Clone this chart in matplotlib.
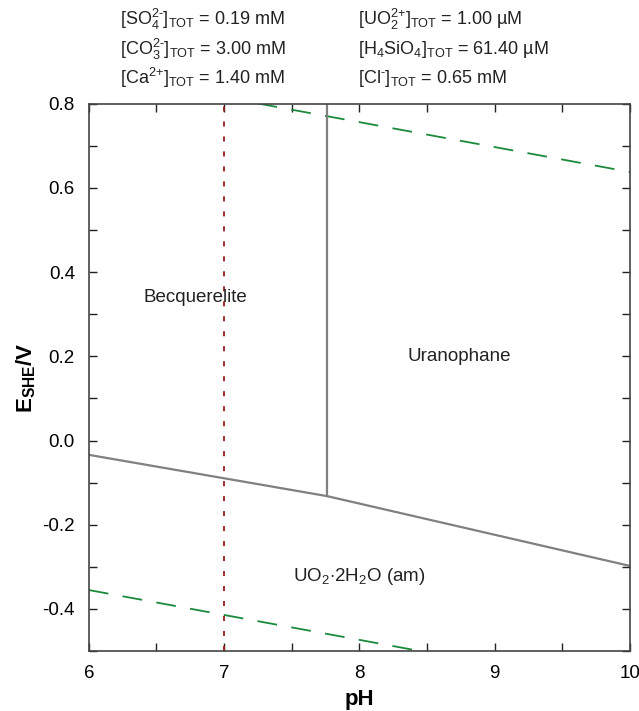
import numpy as np
import matplotlib.pyplot as plt
from matplotlib.ticker import MultipleLocator

plt.rcParams['font.family'] = ['Liberation Sans', 'DejaVu Sans']
plt.rcParams['mathtext.fontset'] = 'custom'
plt.rcParams['mathtext.rm'] = 'Liberation Sans'
plt.rcParams['mathtext.it'] = 'Liberation Sans:italic'
plt.rcParams['mathtext.bf'] = 'Liberation Sans:bold'

# --- data ---
boundary_ph = [6.0, 7.76, 10.0]           # UO2.2H2O(am) upper boundary
boundary_e = [-0.034, -0.132, -0.298]
vert_ph = 7.76                            # becquerelite / uranophane
vert_e = [-0.132, 0.8]
sample_ph = 7.0                           # red dotted line
water_ph = [6.0, 10.0]
o2_e = [1.23 - 0.0592 * p for p in water_ph]
h2_e = [-0.0592 * p for p in water_ph]

field_names = ['Becquerelite', 'Uranophane', r'UO$_2$$\cdot$2H$_2$O (am)']
field_ph = [6.79, 8.74, 8.0]
field_e = [0.34, 0.20, -0.322]

header_left = [r'[SO$_4^{2\text{-}}$]$_{\mathregular{TOT}}$ = 0.19 mM',
               r'[CO$_3^{2\text{-}}$]$_{\mathregular{TOT}}$ = 3.00 mM',
               r'[Ca$^{2\text{+}}$]$_{\mathregular{TOT}}$ = 1.40 mM']
header_right = [r'[UO$_2^{2\text{+}}$]$_{\mathregular{TOT}}$ = 1.00 µM',
                r'[H$_4$SiO$_4$]$_{\mathregular{TOT}}$ = 61.40 µM',
                r'[Cl$^{\text{-}}$]$_{\mathregular{TOT}}$ = 0.65 mM']

fig = plt.figure(figsize=(6.39, 7.11), dpi=100)
ax = fig.add_axes([0.139, 0.0844, 0.847, 0.7696])

green = '#1b8a3c'
ax.plot(water_ph, o2_e, color=green, lw=1.3, dashes=(11, 8))
ax.plot(water_ph, h2_e, color=green, lw=1.3, dashes=(11, 8))
ax.axvline(sample_ph, color='#9b1b1b', lw=1.3, dashes=(2.8, 5.5))
ax.plot(boundary_ph, boundary_e, color='#808080', lw=1.6)
ax.plot([vert_ph, vert_ph], vert_e, color='#808080', lw=1.6)

for name, x, y in zip(field_names, field_ph, field_e):
    ax.text(x, y, name, ha='center', va='center', fontsize=13.5, color='#222222')

ax.set_xlim(6, 10)
ax.set_ylim(-0.5, 0.8)
ax.xaxis.set_major_locator(MultipleLocator(1))
ax.xaxis.set_minor_locator(MultipleLocator(0.5))
ax.yaxis.set_major_locator(MultipleLocator(0.2))
ax.yaxis.set_minor_locator(MultipleLocator(0.1))
ax.yaxis.set_major_formatter(plt.FuncFormatter(lambda v, p: f'{v:.1f}'.replace('-0.0', '0.0')))
ax.tick_params(which='both', direction='in', top=True, right=True, length=6,
               width=1, color='#222222', labelsize=13.5)
ax.tick_params(axis='x', pad=10)
ax.tick_params(axis='y', pad=10)
for s in ax.spines.values():
    s.set_color('#444444')
    s.set_linewidth(1.2)

ax.set_xlabel('pH', fontsize=16, fontweight='bold', labelpad=5)
ax.set_ylabel(r'$\mathbf{E}_{\mathbf{SHE}}$/V', fontsize=16, fontweight='bold', labelpad=3)

for i, (l, r) in enumerate(zip(header_left, header_right)):
    y = 0.972 - i * 0.041
    fig.text(0.188, y, l, fontsize=13, va='center', color='#222222')
    fig.text(0.561, y, r, fontsize=13, va='center', color='#222222')

fig.savefig('out.png', dpi=100)
